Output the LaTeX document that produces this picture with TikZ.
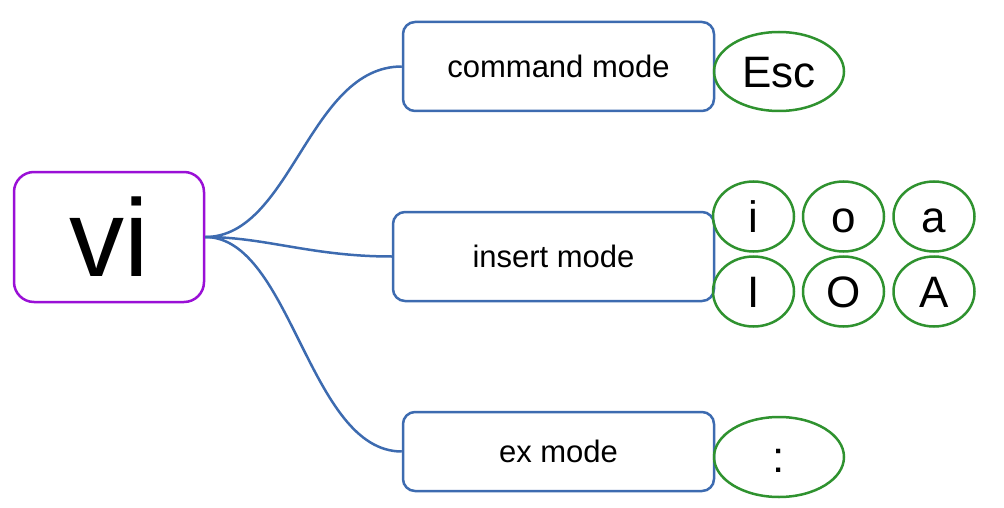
\documentclass[tikz,border=0pt]{standalone}
\usepackage{fontspec}
\setmainfont{Liberation Sans}
\usetikzlibrary{shapes.geometric}
\definecolor{vipurple}{HTML}{9A10D6}
\definecolor{modeblue}{HTML}{3D6BB0}
\definecolor{keygreen}{HTML}{2F922F}
\tikzset{
  rootbox/.style={draw=vipurple, line width=2.5pt, rounded corners=20pt, minimum width=190pt, minimum height=130pt, inner sep=0pt, font=\fontsize{110}{120}\selectfont},
  modebox/.style={draw=modeblue, line width=2.5pt, rounded corners=12pt, inner sep=0pt, font=\fontsize{31}{36}\selectfont},
  keyellipse/.style={ellipse, draw=keygreen, line width=2.5pt, inner sep=0pt, font=\fontsize{44}{50}\selectfont, text height=31.5pt, text depth=0pt},
  bigkey/.style={keyellipse, minimum width=130pt, minimum height=79pt},
  smallkey/.style={keyellipse, minimum width=81pt, minimum height=70pt},
  link/.style={draw=modeblue, line width=2.5pt}
}
\begin{document}
\begin{tikzpicture}[x=1pt,y=-1pt]
\useasboundingbox (0,0) rectangle (1004,508);
\node[rootbox] (vi) at (109,237) {vi};
\node[modebox, minimum width=311pt, minimum height=89pt] (cmd) at (558.5,66.5) {command mode};
\node[modebox, minimum width=321pt, minimum height=89pt] (ins) at (553.5,256.5) {insert mode};
\node[modebox, minimum width=311pt, minimum height=79pt] (ex) at (558.5,451.5) {ex mode};
\node[bigkey] (esc) at (779,71.5) {Esc};
\node[bigkey, minimum height=80pt] (colon) at (779,457) {:};
\node[smallkey] (ki) at (753.5,216.5) {i};
\node[smallkey] (ko) at (843.5,216.5) {o};
\node[smallkey] (ka) at (934,216.5) {a};
\node[smallkey] (kI) at (753.5,291.5) {I};
\node[smallkey] (kO) at (843.5,291.5) {O};
\node[smallkey] (kA) at (934,291.5) {A};
\draw[link] (vi.east) .. controls +(86,0) and +(-93,0) .. (cmd.west);
\draw[link] (vi.east) .. controls +(60,0) and +(-80,0) .. (ins.west);
\draw[link] (vi.east) .. controls +(86,0) and +(-93,0) .. (ex.west);
\end{tikzpicture}
\end{document}
